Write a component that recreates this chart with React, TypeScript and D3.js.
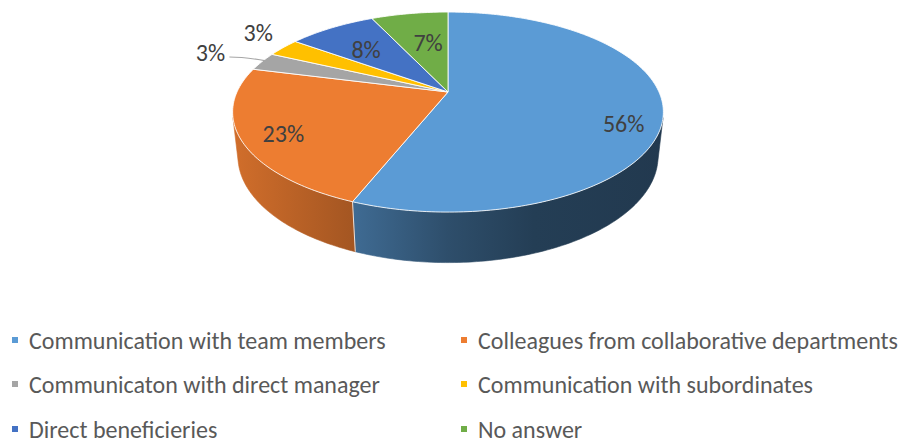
import { useEffect, useRef } from "react";
import * as d3 from "d3";

const categories = [
  "Communication with team members",
  "Colleagues from collaborative departments",
  "Communicaton with direct manager",
  "Communication with subordinates",
  "Direct beneficieries",
  "No answer",
];
const values = [56, 23, 3, 3, 8, 7];
const colors = ["#5B9BD5", "#ED7D31", "#A5A5A5", "#FFC000", "#4472C4", "#70AD47"];

// label placement: share of radius, and nudge off the mid angle (degrees)
const labelRadius = [0.84, 0.82, 1.31, 1.25, 0.65, 0.59];
const labelNudge = [10.9, -1.8, 0.5, 4.1, -1.4, 2.3];

export default function App() {
  const svgRef = useRef<SVGSVGElement>(null);

  useEffect(() => {
    if (!svgRef.current) return;
    const svg = d3.select(svgRef.current);
    svg.selectAll("*").remove();

    const width = 902;
    const height = 442;
    svg.attr("width", width).attr("height", height);

    // 3D pie geometry (simple perspective camera)
    const cx = 448;
    const cy = 92;
    const R = 211;
    const H = 50;
    const alpha = Math.asin(96 / R);
    const D = 937;
    const sinA = Math.sin(alpha);
    const cosA = Math.cos(alpha);

    const project = (theta: number, r: number, y: number): [number, number] => {
      const x = r * Math.sin(theta);
      const z = -r * Math.cos(theta);
      const sy = z * sinA - y * cosA;
      const d = z * cosA + y * sinA;
      const s = D / (D - d);
      return [cx + x * s, cy + sy * s];
    };

    const arcPoints = (a0: number, a1: number, r: number, y: number) => {
      const n = Math.max(2, Math.ceil(((a1 - a0) * 180) / Math.PI));
      return d3.range(n + 1).map((i) => project(a0 + ((a1 - a0) * i) / n, r, y));
    };

    const pie = d3
      .pie<number>()
      .sort(null)
      .value((d) => d);
    const arcs = pie(values);

    // shading for the side walls, darker toward the right
    const defs = svg.append("defs");
    const shade = [
      [0, 0.88],
      [0.28, 0.69],
      [0.5, 0.5],
      [0.7, 0.4],
      [1, 0.37],
    ];
    colors.forEach((c, i) => {
      const g = defs
        .append("linearGradient")
        .attr("id", `side${i}`)
        .attr("gradientUnits", "userSpaceOnUse")
        .attr("x1", cx - R * 1.02)
        .attr("x2", cx + R * 1.02)
        .attr("y1", 0)
        .attr("y2", 0);
      const base = d3.rgb(c);
      shade.forEach(([o, f]) => {
        g.append("stop")
          .attr("offset", o)
          .attr("stop-color", d3.rgb(base.r * f, base.g * f, base.b * f).formatHex());
      });
    });

    // visible part of the outer wall
    const limit = Math.acos(-R / (D * cosA));
    const visLo = limit;
    const visHi = 2 * Math.PI - limit;

    const line = d3.line();
    const walls = svg.append("g");
    arcs.forEach((a, i) => {
      const a0 = Math.max(a.startAngle, visLo);
      const a1 = Math.min(a.endAngle, visHi);
      if (a1 <= a0) return;
      const top = arcPoints(a0, a1, R, 0);
      const bottom = arcPoints(a0, a1, R, -H).reverse();
      walls
        .append("path")
        .attr("d", line([...top, ...bottom]) + "Z")
        .attr("fill", `url(#side${i})`)
        .attr("stroke", `url(#side${i})`)
        .attr("stroke-width", 0.6);
    });

    // white seams between walls
    arcs.forEach((a) => {
      const t = a.startAngle;
      if (t <= visLo || t >= visHi) return;
      walls
        .append("path")
        .attr("d", line([project(t, R, 0), project(t, R, -H)]))
        .attr("stroke", "#ffffff")
        .attr("stroke-opacity", 0.8)
        .attr("stroke-width", 1);
    });

    // top faces
    const tops = svg.append("g");
    arcs.forEach((a, i) => {
      const pts = [project(0, 0, 0), ...arcPoints(a.startAngle, a.endAngle, R, 0)];
      tops
        .append("path")
        .attr("d", line(pts) + "Z")
        .attr("fill", colors[i])
        .attr("stroke", "#ffffff")
        .attr("stroke-opacity", 0.85)
        .attr("stroke-width", 1)
        .attr("stroke-linejoin", "round");
    });

    // data labels
    const labels = svg.append("g");
    arcs.forEach((a, i) => {
      const mid = (a.startAngle + a.endAngle) / 2 + (labelNudge[i] * Math.PI) / 180;
      const [lx, ly] = project(mid, R * labelRadius[i], 0);
      if (labelRadius[i] > 1.3) {
        const [ex, ey] = project(mid, R, 0);
        labels
          .append("path")
          .attr("d", `M${lx + 19},${ly + 5} Q${lx + 34},${ly + 5} ${ex + 3},${ey}`)
          .attr("fill", "none")
          .attr("stroke", "#a6a6a6")
          .attr("stroke-width", 1.2);
      }
      labels
        .append("text")
        .attr("x", lx)
        .attr("y", ly)
        .attr("text-anchor", "middle")
        .attr("dominant-baseline", "central")
        .attr("fill", "#404040")
        .attr("font-family", "Carlito, 'Open Sans', sans-serif")
        .attr("font-size", "24px")
        .text(`${a.data}%`);
    });

    // legend
    const legend = svg.append("g");
    const colX = [12, 461];
    const rowY = [340, 384, 429];
    categories.forEach((name, i) => {
      const x = colX[i % 2];
      const y = rowY[Math.floor(i / 2)];
      legend
        .append("rect")
        .attr("x", x)
        .attr("y", y - 3)
        .attr("width", 6)
        .attr("height", 6)
        .attr("fill", colors[i]);
      legend
        .append("text")
        .attr("x", x + 17)
        .attr("y", y)
        .attr("dominant-baseline", "central")
        .attr("fill", "#595959")
        .attr("font-family", "Carlito, 'Open Sans', sans-serif")
        .attr("font-size", "24px")
        .text(name);
    });
  }, []);

  return (
    <svg
      ref={svgRef}
      style={{ position: "absolute", left: 0, top: 0, background: "#ffffff" }}
    ></svg>
  );
}
